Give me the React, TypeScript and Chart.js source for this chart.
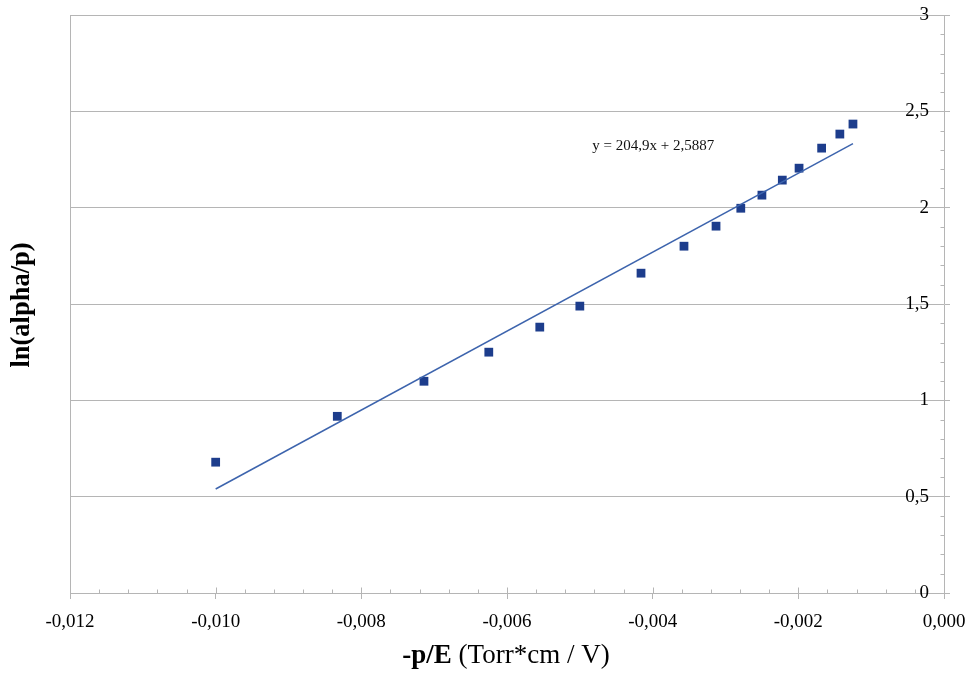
import React, { useEffect, useRef } from "react";
import { Chart, registerables } from "chart.js";

Chart.register(...registerables);

// Measured points: -p/E vs ln(alpha/p)
const xValues = [-0.0100, -0.00833, -0.00714, -0.00625, -0.00555, -0.00500, -0.00416, -0.00357, -0.00313, -0.00279, -0.00250, -0.00222, -0.00199, -0.00168, -0.00143, -0.00125];
const yValues = [0.679, 0.917, 1.099, 1.250, 1.380, 1.489, 1.660, 1.800, 1.904, 1.997, 2.065, 2.143, 2.205, 2.309, 2.382, 2.434];

// Linear trendline end points (y = 204.9x + 2.5887)
const trendX = [-0.0100, -0.00125];
const trendY = [0.5397, 2.3326];

const equationText = "y = 204,9x + 2,5887";
const equationPos = [-0.00483, 2.32];

const xTitleBold = "-p/E ";
const xTitleNormal = "(Torr*cm / V)";
const yTitle = "ln(alpha/p)";

const xMin = -0.012, xMax = 0, xStep = 0.002;
const yMin = 0, yMax = 3, yStep = 0.5;

const FONT = '"Liberation Serif", "Times New Roman", Times, serif';
const GRID = "#b5b5b5";

const decoPlugin = {
  id: "deco",
  afterDraw(chart: any) {
    const ctx = chart.ctx;
    const xs = chart.scales.x;
    const ys = chart.scales.y;
    const area = chart.chartArea;
    ctx.save();
    // left border
    ctx.strokeStyle = GRID;
    ctx.lineWidth = 1;
    ctx.beginPath();
    ctx.moveTo(Math.round(area.left) + 0.5, area.top);
    ctx.lineTo(Math.round(area.left) + 0.5, area.bottom);
    ctx.stroke();
    // minor ticks on y axis (inside)
    const ax = Math.round(area.right) + 0.5;
    for (let i = 0; i <= 30; i++) {
      if (i % 5 === 0) continue;
      const py = Math.round(ys.getPixelForValue(i / 10)) + 0.5;
      ctx.beginPath();
      ctx.moveTo(ax - 4, py);
      ctx.lineTo(ax, py);
      ctx.stroke();
    }
    // minor + major ticks on x axis (inside)
    const by = Math.round(area.bottom) + 0.5;
    for (let i = 0; i <= 30; i++) {
      const v = xMin + i * 0.0004;
      const px = Math.round(xs.getPixelForValue(v)) + 0.5;
      const len = i % 5 === 0 ? 6 : 4;
      ctx.beginPath();
      ctx.moveTo(px, by - len);
      ctx.lineTo(px, by);
      ctx.stroke();
    }
    // equation label
    ctx.fillStyle = "#111";
    ctx.font = `15px ${FONT}`;
    ctx.textAlign = "left";
    ctx.textBaseline = "middle";
    ctx.fillText(equationText, xs.getPixelForValue(equationPos[0]), ys.getPixelForValue(equationPos[1]));
    // x title (mixed weight)
    ctx.fillStyle = "#000";
    ctx.font = `bold 27px ${FONT}`;
    const w1 = ctx.measureText(xTitleBold).width;
    ctx.font = `27px ${FONT}`;
    const w2 = ctx.measureText(xTitleNormal).width;
    const cx = 506;
    const startX = cx - (w1 + w2) / 2;
    const ty = 656;
    ctx.font = `bold 27px ${FONT}`;
    ctx.fillText(xTitleBold, startX, ty);
    ctx.font = `27px ${FONT}`;
    ctx.fillText(xTitleNormal, startX + w1, ty);
    // y title
    ctx.save();
    ctx.translate(22, 305);
    ctx.rotate(-Math.PI / 2);
    ctx.textAlign = "center";
    ctx.font = `bold 26.5px ${FONT}`;
    ctx.fillText(yTitle, 0, 0);
    ctx.restore();
    ctx.restore();
  },
};

const fmtComma = (v: number, d: number) => v.toFixed(d).replace(".", ",");

export default function App() {
  const ref = useRef<HTMLCanvasElement | null>(null);
  useEffect(() => {
    if (!ref.current) return;
    const chart = new Chart(ref.current, {
      type: "scatter",
      data: {
        datasets: [
          {
            label: "trend",
            type: "line",
            data: trendX.map((x, i) => ({ x, y: trendY[i] })),
            borderColor: "#3d64ad",
            borderWidth: 1.5,
            pointRadius: 0,
            fill: false,
          } as any,
          {
            label: "data",
            data: xValues.map((x, i) => ({ x, y: yValues[i] })),
            pointStyle: "rect",
            pointRadius: 6.2,
            pointHoverRadius: 6.2,
            backgroundColor: "#1d3d8c",
            borderColor: "#1d3d8c",
            borderWidth: 0,
          },
        ],
      },
      options: {
        animation: false,
        responsive: true,
        maintainAspectRatio: false,
        layout: { padding: { left: 70, top: 15, right: 0, bottom: 0 } },
        plugins: { legend: { display: false }, tooltip: { enabled: false } },
        scales: {
          x: {
            type: "linear",
            min: xMin,
            max: xMax,
            afterFit: (s: any) => { s.height = 82; s.paddingLeft = 0; s.paddingRight = 0; },
            ticks: {
              stepSize: xStep,
              padding: 12,
              color: "#000",
              font: { family: FONT, size: 19 },
              callback: (v: any) => fmtComma(Number(v), 3),
            },
            grid: { drawOnChartArea: false, color: GRID, tickLength: 6 },
            border: { color: GRID },
          },
          y: {
            type: "linear",
            position: "right",
            min: yMin,
            max: yMax,
            afterFit: (s: any) => { s.width = 23; s.paddingTop = 0; s.paddingBottom = 0; },
            ticks: {
              stepSize: yStep,
              mirror: true,
              padding: -15,
              color: "#000",
              font: { family: FONT, size: 19 },
              callback: (v: any) => String(v).replace(".", ","),
            },
            grid: { color: GRID, tickLength: 6 },
            border: { color: GRID },
          },
        },
      },
      plugins: [decoPlugin],
    });
    return () => chart.destroy();
  }, []);
  return (
    <div style={{ position: "absolute", left: 0, top: 0, width: 967, height: 675, background: "#fff" }}>
      <canvas ref={ref} />
    </div>
  );
}
